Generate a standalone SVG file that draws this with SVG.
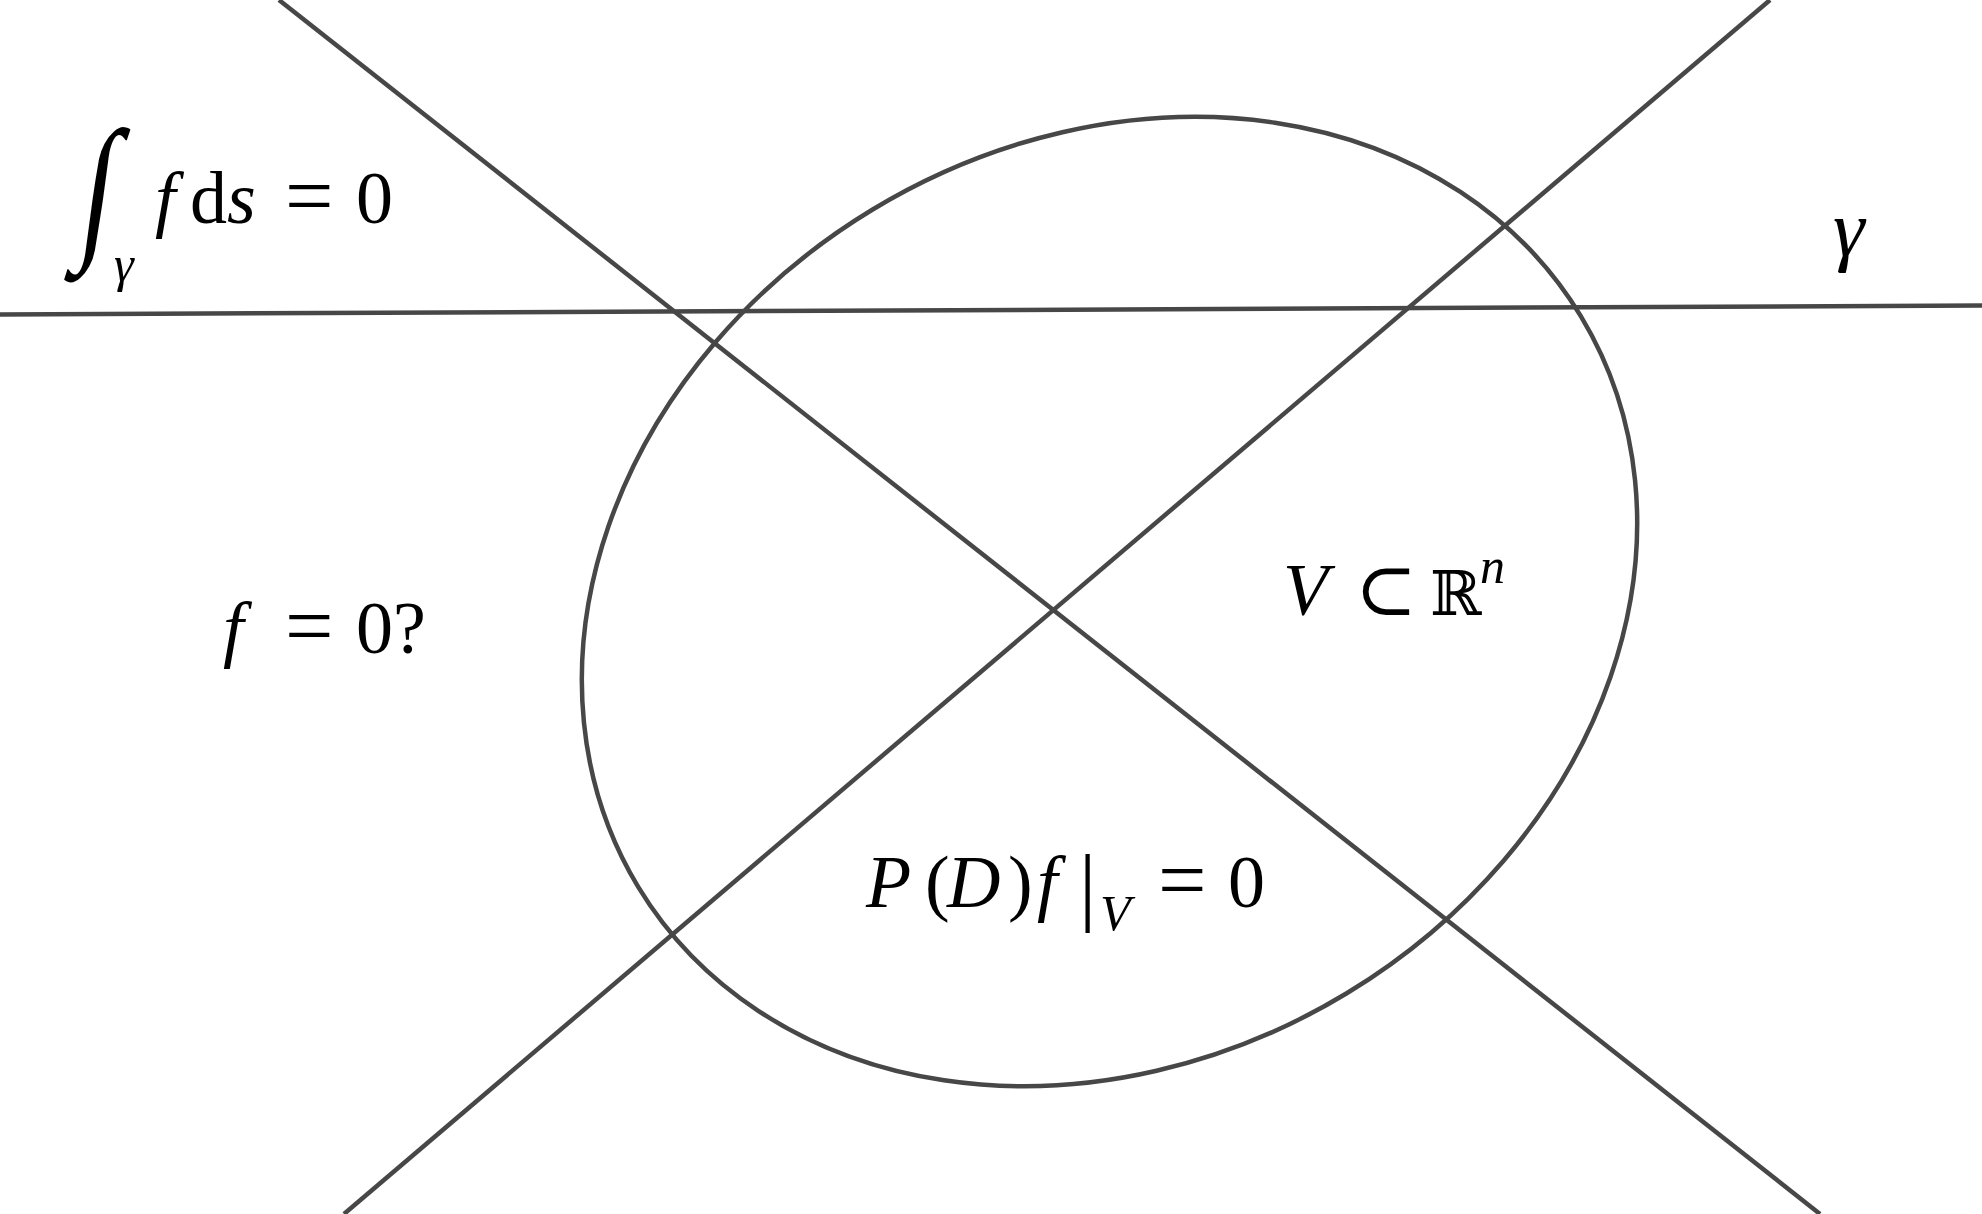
<svg xmlns="http://www.w3.org/2000/svg" width="1982" height="1214" viewBox="0 0 1982 1214">
<style>
.ln{stroke:#474747;stroke-width:4.5;fill:none}
.m{font-family:"Liberation Serif","DejaVu Serif",serif;font-size:74px;fill:#000}
.i{font-style:italic}
.s{font-size:50px}
.eq{font-size:86px}
</style>
<rect width="1982" height="1214" fill="#fff"/>
<g id="connectors">
<line class="ln" x1="279" y1="0" x2="1820" y2="1214"/>
<line class="ln" x1="1770" y1="0" x2="344" y2="1214"/>
<line class="ln" x1="0" y1="314.5" x2="1982" y2="305.5"/>
</g>
<g id="region">
<ellipse class="ln" cx="1109.5" cy="601.5" rx="551" ry="458" transform="rotate(-31.2 1109.5 601.5)"/>
</g>
<g id="integral">
<text class="m i" transform="translate(76,240) skewX(-8) scale(1.3,1.72)" style="font-size:92px">∫</text>
<text class="m i s" x="114" y="281">γ</text>
<text class="m"><tspan class="i" x="155" y="223">f</tspan><tspan x="190" y="223">d</tspan><tspan class="i" x="227" y="223">s</tspan><tspan class="eq" x="285" y="225">=</tspan><tspan x="356" y="223">0</tspan></text>
</g>
<g id="gamma">
<text class="m i" x="1833" y="256" style="font-size:80px">γ</text>
</g>
<g id="question">
<text class="m"><tspan class="i" x="223" y="653">f</tspan><tspan class="eq" x="285" y="655">=</tspan><tspan x="356" y="653">0?</tspan></text>
</g>
<g id="subset">
<text class="m"><tspan class="i" x="1283" y="615">V</tspan><tspan x="1355" y="615">⊂</tspan><tspan x="1430" y="615" style="font-family:'DejaVu Serif',serif;font-size:62px">ℝ</tspan><tspan class="i s" x="1480" y="583">n</tspan></text>
</g>
<g id="pde">
<text class="m"><tspan class="i" x="866" y="907">P</tspan><tspan x="925" y="907">(</tspan><tspan class="i" x="947" y="907">D</tspan><tspan x="1008" y="907">)</tspan><tspan class="i" x="1037" y="907">f</tspan><tspan class="eq" x="1079" y="914">|</tspan><tspan class="i s" x="1100" y="930">V</tspan><tspan class="eq" x="1158" y="909">=</tspan><tspan x="1228" y="907">0</tspan></text>
</g>
</svg>
